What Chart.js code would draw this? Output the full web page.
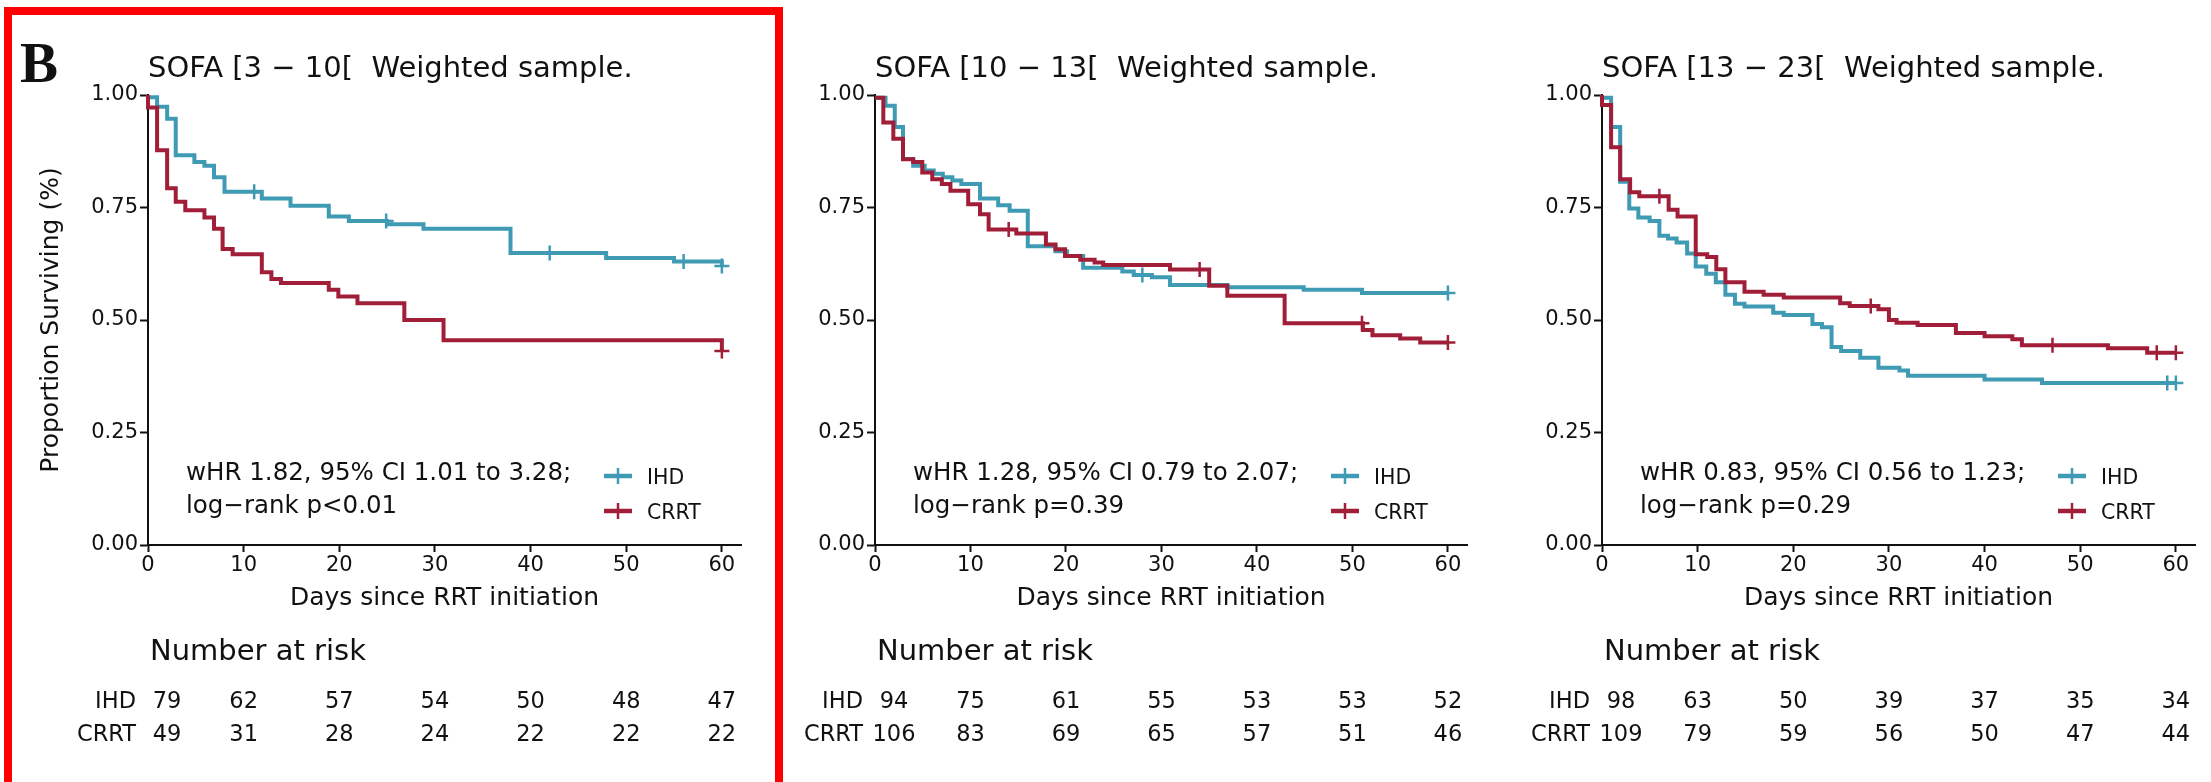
<!DOCTYPE html>
<html><head><meta charset="utf-8">
<script src="https://cdn.jsdelivr.net/npm/chart.js@4.4.1/dist/chart.umd.min.js"></script>
<style>
html,body{margin:0;padding:0;background:#fff;width:2211px;height:782px;overflow:hidden;}
canvas{position:absolute;left:0;top:0;}
#frame{position:absolute;left:4px;top:7px;width:779px;height:800px;border:8px solid #ff0000;box-sizing:border-box;}
</style></head><body>
<div id="frame"></div>
<canvas id="c1" width="2211" height="782"></canvas>
<canvas id="c2" width="2211" height="782"></canvas>
<canvas id="c3" width="2211" height="782"></canvas>
<script>
// ---------- data ----------
const xTicks = [0, 10, 20, 30, 40, 50, 60];
const yTicks = [0, 0.25, 0.5, 0.75, 1];
const yTickLabels = ["0.00", "0.25", "0.50", "0.75", "1.00"];
const groups = ["IHD", "CRRT"];
const panelLetter = "B";
const yAxisTitle = "Proportion Surviving (%)";
const xAxisTitle = "Days since RRT initiation";
const riskTitle = "Number at risk";
const titles = ["SOFA [3 \u2212 10[  Weighted sample.", "SOFA [10 \u2212 13[  Weighted sample.", "SOFA [13 \u2212 23[  Weighted sample."];
const hrTexts = ["wHR 1.82, 95% CI 1.01 to 3.28;", "wHR 1.28, 95% CI 0.79 to 2.07;", "wHR 0.83, 95% CI 0.56 to 1.23;"];
const pTexts = ["log\u2212rank p<0.01", "log\u2212rank p=0.39", "log\u2212rank p=0.29"];

// Panel 1: SOFA [3-10[
const p1IhdT = [0, 0.95, 2.0, 2.9, 4.85, 5.9, 6.9, 8.0, 11.9, 14.9, 18.9, 21.0, 25.0, 28.8, 37.9, 47.9, 55.0, 60];
const p1IhdS = [0.995, 0.974, 0.947, 0.866, 0.851, 0.843, 0.817, 0.785, 0.770, 0.754, 0.730, 0.720, 0.713, 0.703, 0.649, 0.638, 0.630, 0.620];
const p1IhdCensT = [11.1, 24.9, 42.0, 56.0, 60];
const p1IhdCensS = [0.785, 0.720, 0.649, 0.630, 0.620];
const p1CrrtT = [0, 0, 0.95, 2.0, 2.9, 3.9, 5.9, 6.9, 7.8, 8.85, 11.9, 12.9, 13.9, 18.9, 19.9, 21.9, 26.8, 30.9, 60];
const p1CrrtS = [1.0, 0.972, 0.877, 0.793, 0.763, 0.744, 0.728, 0.703, 0.658, 0.646, 0.606, 0.591, 0.582, 0.567, 0.552, 0.537, 0.500, 0.455, 0.431];
const p1CrrtCensT = [60];
const p1CrrtCensS = [0.431];
const p1RiskIhd = [79, 62, 57, 54, 50, 48, 47];
const p1RiskCrrt = [49, 31, 28, 24, 22, 22, 22];

// Panel 2: SOFA [10-13[
const p2IhdT = [0, 1.1, 2.07, 2.93, 4.0, 5.2, 6.15, 7.1, 8.1, 9.04, 11.0, 12.9, 14.1, 16.0, 18.9, 20.1, 21.8, 25.9, 27.1, 29.0, 30.9, 36.9, 44.9, 51.0, 60];
const p2IhdS = [0.994, 0.976, 0.929, 0.858, 0.843, 0.832, 0.825, 0.817, 0.810, 0.802, 0.770, 0.755, 0.743, 0.664, 0.653, 0.642, 0.616, 0.608, 0.600, 0.595, 0.578, 0.573, 0.567, 0.560, 0.560];
const p2IhdCensT = [28.0, 60];
const p2IhdCensS = [0.600, 0.560];
const p2CrrtT = [0, 0.87, 1.92, 2.93, 4.0, 4.95, 6.0, 7.0, 7.9, 9.76, 11.0, 11.9, 14.8, 17.9, 18.9, 19.9, 21.5, 23.0, 23.9, 30.9, 35.0, 36.9, 42.9, 51.1, 52.1, 55.0, 57.1, 60];
const p2CrrtS = [0.994, 0.939, 0.903, 0.857, 0.851, 0.828, 0.813, 0.802, 0.787, 0.757, 0.735, 0.701, 0.692, 0.668, 0.657, 0.642, 0.634, 0.628, 0.622, 0.612, 0.576, 0.554, 0.493, 0.478, 0.466, 0.459, 0.450, 0.450];
const p2CrrtCensT = [14.0, 34.0, 51.0, 60];
const p2CrrtCensS = [0.701, 0.612, 0.493, 0.450];
const p2RiskIhd = [94, 75, 61, 55, 53, 53, 52];
const p2RiskCrrt = [106, 83, 69, 65, 57, 51, 46];

// Panel 3: SOFA [13-23[
const p3IhdT = [0, 0.95, 1.9, 2.85, 3.8, 4.98, 6.0, 6.9, 7.8, 8.9, 9.8, 10.9, 11.9, 12.9, 13.9, 14.9, 17.9, 19.0, 22.0, 23.0, 24.0, 25.0, 27.0, 28.9, 31.1, 32.0, 40.0, 46.0, 60];
const p3IhdS = [0.994, 0.929, 0.807, 0.748, 0.728, 0.720, 0.687, 0.681, 0.672, 0.648, 0.619, 0.603, 0.584, 0.556, 0.536, 0.530, 0.516, 0.511, 0.491, 0.484, 0.440, 0.431, 0.416, 0.394, 0.388, 0.376, 0.368, 0.360, 0.360];
const p3IhdCensT = [59.1, 60];
const p3IhdCensS = [0.360, 0.360];
const p3CrrtT = [0, 0, 0.95, 1.9, 2.94, 3.9, 6.97, 7.9, 9.8, 11.0, 11.95, 12.9, 14.9, 16.9, 19.0, 24.9, 25.9, 28.9, 30.0, 30.8, 33.0, 37.0, 40.0, 42.9, 43.9, 52.9, 57.0, 60];
const p3CrrtS = [1.0, 0.978, 0.884, 0.813, 0.784, 0.775, 0.745, 0.730, 0.646, 0.640, 0.613, 0.584, 0.563, 0.556, 0.550, 0.537, 0.531, 0.524, 0.500, 0.494, 0.489, 0.471, 0.464, 0.457, 0.444, 0.437, 0.427, 0.427];
const p3CrrtCensT = [6.0, 28.1, 47.1, 58.0, 60];
const p3CrrtCensS = [0.775, 0.531, 0.444, 0.427, 0.427];
const p3RiskIhd = [98, 63, 50, 39, 37, 35, 34];
const p3RiskCrrt = [109, 79, 59, 56, 50, 47, 44];

// ---------- styling ----------
const BLUE = "#3F9AB4";
const RED = "#A11E38";
const INK = "#111111";
const FONT = '"DejaVu Sans", sans-serif';

function pts(t, s) { return t.map((v, i) => ({ x: v, y: s[i] })); }

const panels = [
  { id: "c1", left: 148, right: 741, title: titles[0], hr: hrTexts[0], p: pTexts[0], yTitle: true, letter: true,
    ihd: pts(p1IhdT, p1IhdS), crrt: pts(p1CrrtT, p1CrrtS), ihdC: pts(p1IhdCensT, p1IhdCensS), crrtC: pts(p1CrrtCensT, p1CrrtCensS),
    risk: [p1RiskIhd, p1RiskCrrt] },
  { id: "c2", left: 875, right: 1467, title: titles[1], hr: hrTexts[1], p: pTexts[1], yTitle: false, letter: false,
    ihd: pts(p2IhdT, p2IhdS), crrt: pts(p2CrrtT, p2CrrtS), ihdC: pts(p2IhdCensT, p2IhdCensS), crrtC: pts(p2CrrtCensT, p2CrrtCensS),
    risk: [p2RiskIhd, p2RiskCrrt] },
  { id: "c3", left: 1602, right: 2195, title: titles[2], hr: hrTexts[2], p: pTexts[2], yTitle: false, letter: false,
    ihd: pts(p3IhdT, p3IhdS), crrt: pts(p3CrrtT, p3CrrtS), ihdC: pts(p3IhdCensT, p3IhdCensS), crrtC: pts(p3CrrtCensT, p3CrrtCensS),
    risk: [p3RiskIhd, p3RiskCrrt] }
];

const TOP = 95, BOTTOM = 545, W = 2211, H = 782, AXW = 60, AXH = 60;

function textPlugin(pn) {
  return {
    id: "texts_" + pn.id,
    afterDraw(chart) {
      const ctx = chart.ctx;
      const xs = chart.scales.x;
      const x0 = xs.getPixelForValue(0);
      ctx.save();
      ctx.fillStyle = INK;
      ctx.textBaseline = "alphabetic";
      // panel letter
      if (pn.letter) {
        ctx.font = 'bold 57px "Liberation Serif", serif';
        ctx.textAlign = "left";
        ctx.fillText(panelLetter, 20, 82);
      }
      // title
      ctx.font = "29px " + FONT;
      ctx.textAlign = "left";
      ctx.fillText(pn.title, x0, 77);
      // y axis title
      if (pn.yTitle) {
        ctx.save();
        ctx.translate(58, (TOP + BOTTOM) / 2);
        ctx.rotate(-Math.PI / 2);
        ctx.textAlign = "center";
        ctx.font = "25px " + FONT;
        ctx.fillText(yAxisTitle, 0, 0);
        ctx.restore();
      }
      // x axis title
      ctx.font = "25px " + FONT;
      ctx.textAlign = "center";
      ctx.fillText(xAxisTitle, (chart.chartArea.left + chart.chartArea.right) / 2, 605);
      // annotation
      ctx.textAlign = "left";
      ctx.font = "24.5px " + FONT;
      ctx.fillText(pn.hr, x0 + 38, 480);
      ctx.fillText(pn.p, x0 + 38, 513);
      // legend
      const legY = [476, 511];
      const legCol = [BLUE, RED];
      for (let g = 0; g < 2; g++) {
        ctx.strokeStyle = legCol[g];
        ctx.lineWidth = 4.5;
        ctx.beginPath();
        ctx.moveTo(x0 + 456, legY[g]);
        ctx.lineTo(x0 + 484, legY[g]);
        ctx.stroke();
        ctx.lineWidth = 2.5;
        ctx.beginPath();
        ctx.moveTo(x0 + 470, legY[g] - 8);
        ctx.lineTo(x0 + 470, legY[g] + 8);
        ctx.stroke();
        ctx.fillStyle = INK;
        ctx.font = "20.5px " + FONT;
        ctx.textAlign = "left";
        ctx.fillText(groups[g], x0 + 499, legY[g] + 8);
      }
      // risk table
      ctx.font = "29px " + FONT;
      ctx.textAlign = "left";
      ctx.fillText(riskTitle, x0 + 2, 660);
      const rowY = [708, 741];
      ctx.font = "22.5px " + FONT;
      for (let g = 0; g < 2; g++) {
        ctx.textAlign = "right";
        ctx.fillText(groups[g], x0 - 12, rowY[g]);
        ctx.textAlign = "center";
        for (let i = 0; i < xTicks.length; i++) {
          const px = xs.getPixelForValue(xTicks[i]) + (i === 0 ? 19 : 0);
          ctx.fillText(String(pn.risk[g][i]), px, rowY[g]);
        }
      }
      ctx.restore();
    }
  };
}

function makeChart(pn) {
  const tickFont = { family: FONT, size: 21 };
  return new Chart(document.getElementById(pn.id), {
    type: "line",
    data: {
      datasets: [
        { label: groups[0], data: pn.ihd, borderColor: BLUE, borderWidth: 4, stepped: true, pointRadius: 0, fill: false, clip: false, order: 2 },
        { label: groups[1], data: pn.crrt, borderColor: RED, borderWidth: 4, stepped: true, pointRadius: 0, fill: false, clip: false, order: 1 },
        { label: groups[0] + " censored", data: pn.ihdC, showLine: false, pointStyle: "cross", pointRadius: 7.5, pointBorderWidth: 2.5, borderColor: BLUE, backgroundColor: BLUE, clip: false, order: 2 },
        { label: groups[1] + " censored", data: pn.crrtC, showLine: false, pointStyle: "cross", pointRadius: 7.5, pointBorderWidth: 2.5, borderColor: RED, backgroundColor: RED, clip: false, order: 1 }
      ]
    },
    options: {
      responsive: false,
      animation: false,
      devicePixelRatio: 1,
      events: [],
      layout: { padding: { left: pn.left - AXW, right: W - pn.right, top: TOP, bottom: H - BOTTOM - AXH } },
      plugins: { legend: { display: false }, tooltip: { enabled: false }, title: { display: false } },
      scales: {
        x: {
          type: "linear", min: 0, max: 62,
          afterFit(s) { s.height = AXH; },
          afterBuildTicks(s) { s.ticks = xTicks.map(v => ({ value: v })); },
          ticks: { font: tickFont, color: INK, padding: 1, maxRotation: 0, autoSkip: false, callback: (v) => String(v) },
          grid: { display: true, drawOnChartArea: false, drawTicks: true, tickLength: 7, tickWidth: 2, tickColor: INK },
          border: { display: true, color: INK, width: 2 }
        },
        y: {
          type: "linear", min: 0, max: 1,
          afterFit(s) { s.width = AXW; },
          afterBuildTicks(s) { s.ticks = yTicks.map(v => ({ value: v })); },
          ticks: { font: tickFont, color: INK, padding: 2, autoSkip: false, callback: (v, i) => yTickLabels[i] },
          grid: { display: true, drawOnChartArea: false, drawTicks: true, tickLength: 8, tickWidth: 2, tickColor: INK },
          border: { display: true, color: INK, width: 2 }
        }
      }
    },
    plugins: [textPlugin(pn)]
  });
}

panels.forEach(makeChart);
</script>
</body></html>
